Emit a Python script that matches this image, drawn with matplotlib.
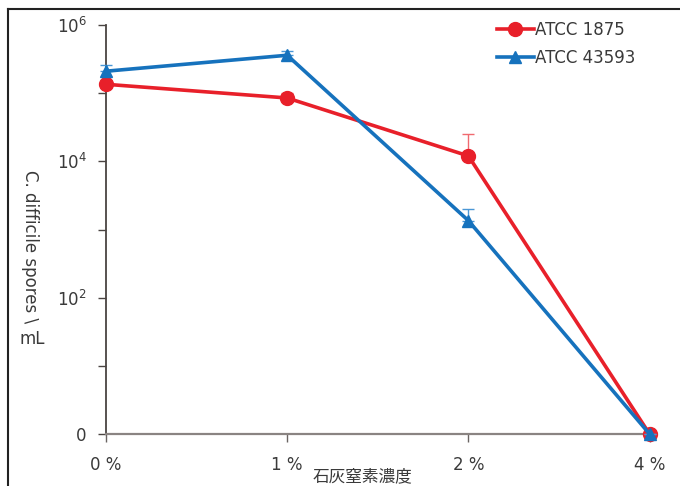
import matplotlib.pyplot as plt
from matplotlib.lines import Line2D

# 石灰窒素濃度 vs spores
categories = ['0 %', '1 %', '2 %', '4 %']
atcc1875 = [1.35e5, 8.5e4, 1.2e4, 1]
atcc1875_err = [0, 1.5e4, 1.3e4, 0]
atcc43593 = [2.1e5, 3.6e5, 1.35e3, 1]
atcc43593_err = [0.5e5, 0.6e5, 0.65e3, 0]

red = '#e8202a'
blue = '#1672bd'
txt = '#3a3a3a'

fig = plt.figure(figsize=(6.8, 4.86), dpi=100)
ax = fig.add_axes([106 / 680, 52 / 486, 549 / 680, 409 / 486])

x = list(range(len(categories)))
ax.errorbar(x, atcc1875, yerr=[[0] * 4, atcc1875_err], color=red, lw=2.6,
            marker='o', ms=10, ecolor='#f06a70', elinewidth=1, capsize=4,
            clip_on=False, zorder=3)
ax.errorbar(x, atcc43593, yerr=[[0] * 4, atcc43593_err], color=blue, lw=2.6,
            marker='^', ms=9, ecolor='#4a97d6', elinewidth=1, capsize=4,
            clip_on=False, zorder=4)

ax.set_yscale('log')
ax.set_ylim(1, 1e6)
ax.set_xlim(0, 3.03)
ax.set_xticks(x)
ax.set_xticklabels(categories)
ax.set_yticks([10 ** i for i in range(7)])
ax.set_yticklabels(['0', '', '10$^{2}$', '', '10$^{4}$', '', '10$^{6}$'])
ax.yaxis.set_minor_locator(plt.NullLocator())

ax.spines['top'].set_visible(False)
ax.spines['right'].set_visible(False)
ax.spines['left'].set_color('#4a4442')
ax.spines['bottom'].set_color('#8a8482')
ax.spines['left'].set_linewidth(1.3)
ax.spines['bottom'].set_linewidth(1.6)
ax.tick_params(axis='y', direction='out', length=6, width=1, color='#4a4442',
               labelsize=12, labelcolor=txt, pad=8)
ax.tick_params(axis='x', direction='out', length=6, width=1, color='#6a6462',
               labelsize=12, labelcolor=txt, pad=10)

fig.text(30 / 680, 1 - 247 / 486, 'C. difficile spores \\', rotation=-90,
         ha='center', va='center', fontsize=12, color=txt)
fig.text(32 / 680, 1 - 339 / 486, 'mL', ha='center', va='center',
         fontsize=12, color=txt)
fig.text(362 / 680, 1 - 477 / 486, '石灰窒素濃度', ha='center', va='center',
         fontsize=12, color=txt, family=['Noto Sans CJK JP', 'DejaVu Sans'])

handles = [Line2D([], [], color=red, lw=2.6, marker='o', ms=10),
           Line2D([], [], color=blue, lw=2.6, marker='^', ms=9)]
ax.legend(handles, ['ATCC 1875', 'ATCC 43593'], loc='upper left',
          bbox_to_anchor=(482 / 680, 1 - 6 / 486),
          bbox_transform=fig.transFigure, frameon=False, fontsize=12,
          handlelength=2.2, handletextpad=0.1, labelspacing=0.6,
          labelcolor=txt)

# frame of the original figure
fig.add_artist(Line2D([8 / 680, 1], [1 - 9 / 486, 1 - 9 / 486],
                      transform=fig.transFigure, color='#222222', lw=1.5))
fig.add_artist(Line2D([8 / 680, 8 / 680], [0, 1 - 9 / 486],
                      transform=fig.transFigure, color='#222222', lw=1.5))

fig.savefig('out.png', dpi=100)
